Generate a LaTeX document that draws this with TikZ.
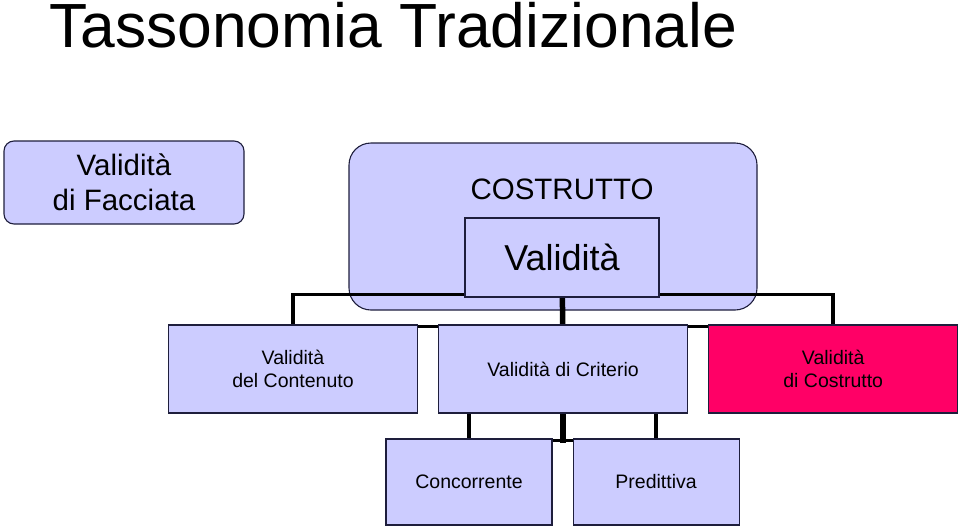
\documentclass[tikz,border=0pt]{standalone}
\usepackage{fontspec}
\setmainfont{Liberation Sans}
\usetikzlibrary{%
	positioning,
	calc,
	backgrounds
}
\definecolor{lavender}{RGB}{204,204,255}
\definecolor{accent}{RGB}{255,0,102}
\definecolor{edge}{RGB}{30,30,60}

\begin{document}
\begin{tikzpicture}[x=1pt,y=-1pt,
		SBox/.style={draw=edge,line width=1.1pt,fill=lavender,shape=rectangle,align=center,inner sep=2pt},
		SRound/.style={SBox,rounded corners=10pt},
		SLow/.style={SBox,minimum width=249pt,minimum height=88pt,font=\fontsize{19.5}{23}\selectfont},
		SLeaf/.style={SBox,minimum width=166pt,minimum height=86pt,font=\fontsize{19.5}{23}\selectfont},
		branch/.style={draw=black,line width=3.5pt},
		trunk/.style={draw=black,line width=5.5pt}
	]
	\useasboundingbox (0,0) rectangle (960,530);
	
		%title
		\node(title) [anchor=base west,inner sep=0pt,font=\fontsize{62.4}{62}\selectfont] at (49,47) {Tassonomia Tradizionale};
		
		%top row
		\node(fac) [SRound, minimum width=240pt, minimum height=83pt, font=\fontsize{29.5}{35}\selectfont] at (124,182.5) {Validità\\di Facciata};
		\node(val) [SBox, minimum width=194pt, minimum height=79pt, font=\fontsize{36}{40}\selectfont] at (562,257.5) {Validità};
		\node(costitle) [inner sep=0pt, font=\fontsize{29.5}{35}\selectfont] at (562,189) {COSTRUTTO};
		
		%second row
		\node(cont) [SLow] at (293,369) {Validità\\del Contenuto};
		\node(crit) [SLow, right=20pt of cont] {Validità di Criterio};
		\node(red) [SLow, fill=accent, right=20pt of crit] {Validità\\di Costrutto};
		
		%third row
		\node(conc) [SLeaf] at (469,482) {Concorrente};
		\node(pred) [SLeaf, right=20pt of conc] {Predittiva};
		
		\begin{scope}[on background layer]
			\node(cos) [SBox, rounded corners=22pt, minimum width=408pt, minimum height=167pt] at (553,226.5) {};
			\draw [branch] (cont.north) -- ++(0,-30) -| (red.north);
			\draw [branch] ($(cont.north)+(0,2)$) -- ($(red.north)+(0,2)$);
			\draw [trunk] (val) -- (crit);
			\draw [branch] (conc.north) -- (conc.north |- crit.south);
			\draw [branch] (pred.north) -- (pred.north |- crit.south);
			\draw [branch] ($(conc.north)+(0,2)$) -- ($(pred.north)+(0,2)$);
			\draw [trunk] (crit.south) -- ++(0,29);
		\end{scope}
	
\end{tikzpicture}
\end{document}
